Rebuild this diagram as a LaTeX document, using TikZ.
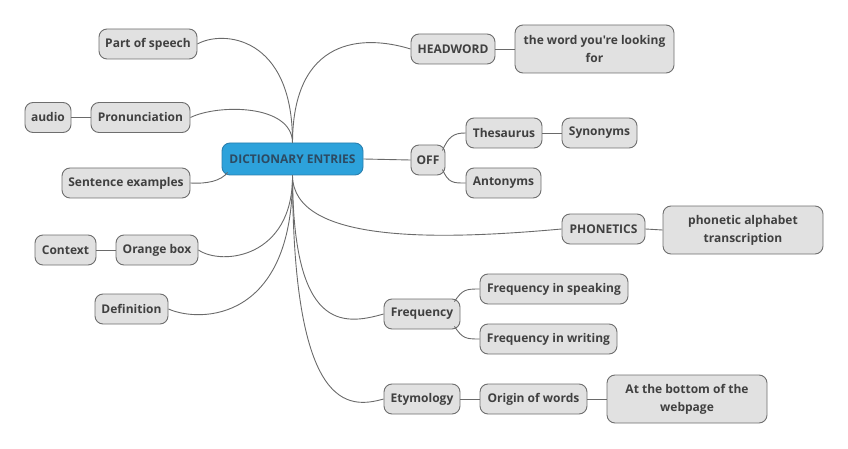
\documentclass[tikz,border=0pt]{standalone}
\usepackage{fontspec}
\setmainfont{Open Sans}[Ligatures=TeXOff]
\usetikzlibrary{calc}
\definecolor{boxfill}{HTML}{E1E1E1}
\definecolor{boxline}{HTML}{6E6E6E}
\definecolor{txt}{HTML}{404040}
\definecolor{cfill}{HTML}{2DA2DB}
\definecolor{cline}{HTML}{2A7FAE}
\definecolor{ctxt}{HTML}{2C4A62}
\definecolor{wire}{HTML}{6A6A6A}
\tikzset{
  topic/.style={draw=boxline, fill=boxfill, line width=0.9pt, rounded corners=8pt,
    text=txt, font=\bfseries\fontsize{12}{18}\selectfont, minimum height=30pt,
    inner sep=2pt, align=center},
  bigtopic/.style={topic, minimum height=48pt, minimum width=160pt},
  central/.style={draw=cline, fill=cfill, line width=0.9pt, rounded corners=8pt,
    text=ctxt, font=\bfseries\fontsize{12}{18}\selectfont, minimum height=32pt,
    minimum width=141pt, inner sep=2pt},
  wirestyle/.style={draw=wire, line width=0.9pt}
}
\begin{document}
\begin{tikzpicture}[x=1pt,y=-1pt]
\useasboundingbox (0,0) rectangle (848,449);
\node[central] (c) at (292.5,159) {DICTIONARY ENTRIES};
% left
\node[topic, minimum width=98pt] (ps) at (148,44) {Part of speech};
\node[topic, minimum width=46pt] (au) at (48,117.5) {audio};
\node[topic, minimum width=99pt] (pr) at (140.5,117.5) {Pronunciation};
\node[topic, minimum width=128pt] (se) at (126,183) {Sentence examples};
\node[topic, minimum width=61pt] (co) at (65.5,250) {Context};
\node[topic, minimum width=82pt] (ob) at (157,250) {Orange box};
\node[topic, minimum width=73pt] (de) at (131.5,309) {Definition};
% right
\node[topic, minimum width=84pt] (hw) at (453,49) {HEADWORD};
\node[bigtopic, minimum width=159pt] (hwd) at (594.5,49) {the word you're looking\\for};
\node[topic, minimum width=34pt] (off) at (428,160) {OFF};
\node[topic, minimum width=76pt] (th) at (504,133) {Thesaurus};
\node[topic, minimum width=75pt] (sy) at (599.5,133) {Synonyms};
\node[topic, minimum width=75pt] (an) at (503.5,183) {Antonyms};
\node[topic, minimum width=83pt] (ph) at (603.5,229) {PHONETICS};
\node[bigtopic] (phd) at (743,230) {phonetic alphabet\\transcription};
\node[topic, minimum width=76pt] (fq) at (422,314) {Frequency};
\node[topic, minimum width=148pt] (fs) at (554,289) {Frequency in speaking};
\node[topic, minimum width=137pt] (fw) at (548.5,339) {Frequency in writing};
\node[topic, minimum width=76pt] (et) at (422,399) {Etymology};
\node[topic, minimum width=107pt] (ow) at (533.5,399) {Origin of words};
\node[bigtopic] (bw) at (687,399) {At the bottom of the\\webpage};
% connectors
\begin{scope}[wirestyle]
\draw (ps.east) .. controls (222,30) and (293,35) .. (c.north);
\draw (pr.east) .. controls (218,104) and (292,104) .. (c.north);
\draw (se.east) .. controls (207,184) and (221,181) .. ($(c.south west)+(6,-3)$);
\draw (ob.east) .. controls (222,266) and (293,258) .. (c.south);
\draw (de.east) .. controls (200,323) and (293,322) .. (c.south);
\draw (c.north) .. controls (293,38) and (362,34) .. (hw.west);
\draw (c.east) -- (off.west);
\draw (c.south) .. controls (293,244) and (440,240) .. (ph.west);
\draw (c.south) .. controls (293,330) and (342,326) .. (fq.west);
\draw (c.south) .. controls (293,412) and (348,409) .. (et.west);
\draw (au.east) -- (pr.west);
\draw (co.east) -- (ob.west);
\draw (hw.east) -- (hwd.west);
\draw (th.east) -- (sy.west);
\draw (ph.east) -- (phd.west);
\draw (et.east) -- (ow.west);
\draw (ow.east) -- (bw.west);
\draw ($(off.north east)+(-3,6)$) .. controls +(6,-14) and +(-12,0) .. (th.west);
\draw ($(off.south east)+(-3,-6)$) .. controls +(6,14) and +(-12,0) .. (an.west);
\draw ($(fq.north east)+(-6,3)$) .. controls +(8,-12) and +(-14,0) .. (fs.west);
\draw ($(fq.south east)+(-6,-3)$) .. controls +(8,12) and +(-14,0) .. (fw.west);
\end{scope}
\end{tikzpicture}
\end{document}
